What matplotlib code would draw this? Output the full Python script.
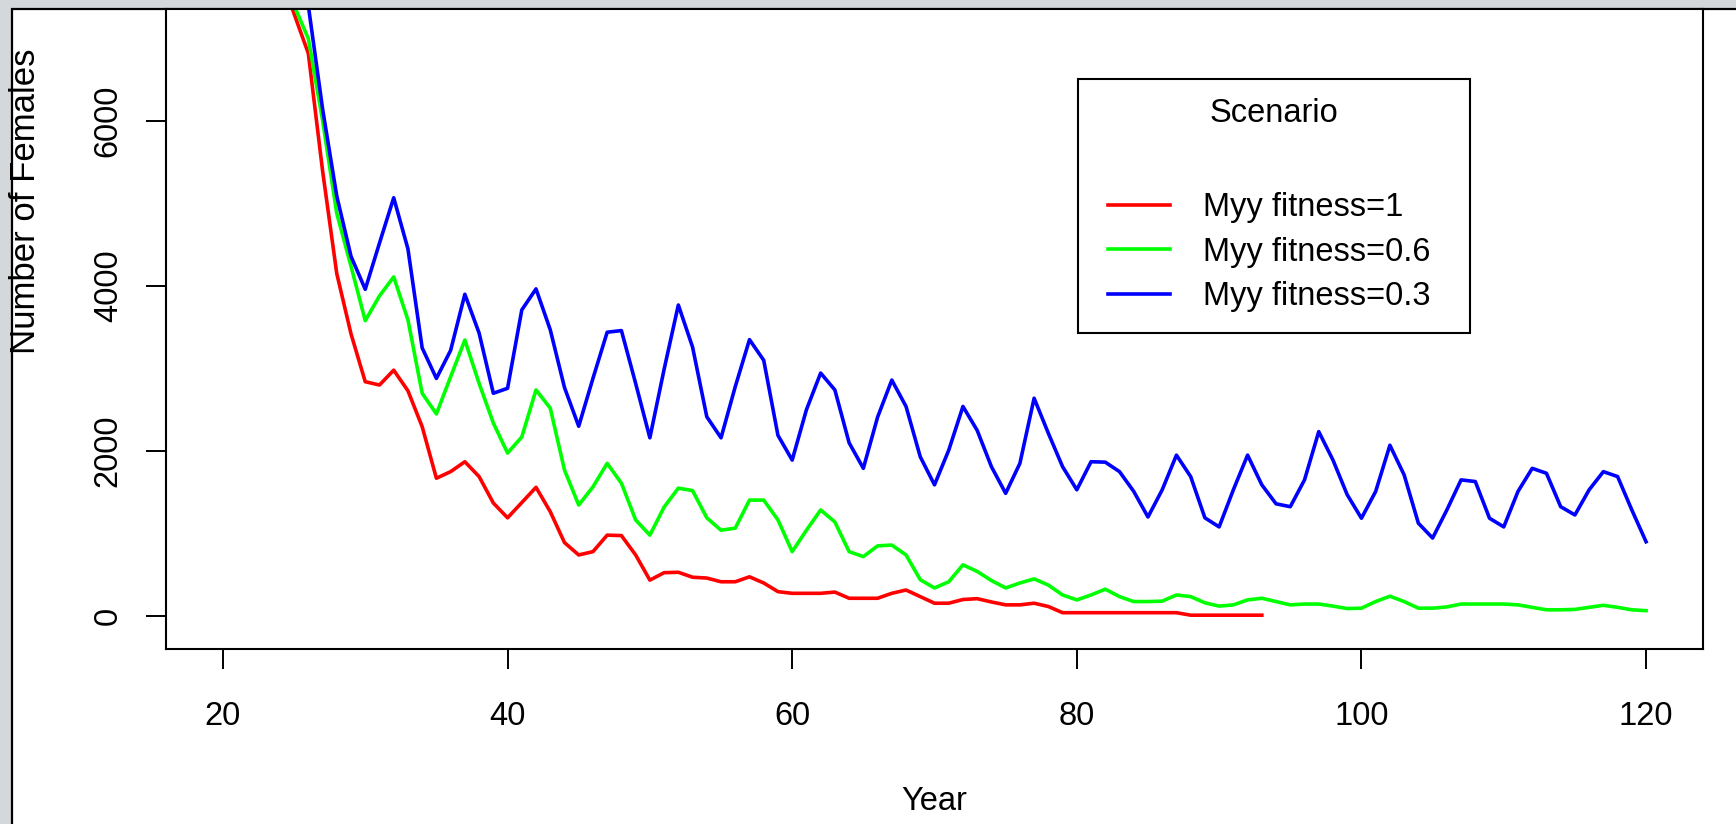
import matplotlib
matplotlib.use("Agg")
import matplotlib.pyplot as plt
from matplotlib.patches import Rectangle
import numpy as np

# yearly female counts per scenario
years = list(range(20, 121))
red_years = list(range(20, 94))

fitness_1 = [9400, 9000, 8600, 8200, 7800, 7300, 6820, 5400, 4150, 3420,
             2840, 2800, 2980, 2730, 2295, 1670, 1750, 1870, 1690, 1370,
             1190, 1375, 1560, 1265, 890, 740, 780, 980, 975, 740,
             435, 525, 530, 470, 460, 415, 415, 475, 400, 295,
             275, 275, 275, 290, 215, 215, 215, 275, 315, 235,
             155, 155, 200, 210, 170, 135, 135, 155, 115, 40,
             40, 40, 40, 40, 40, 40, 40, 40, 10, 10,
             10, 10, 10, 10]

fitness_06 = [9600, 9200, 8800, 8300, 7850, 7400, 7000, 6010, 4880, 4240,
              3580, 3880, 4110, 3590, 2700, 2450, 2900, 3345, 2820, 2340,
              1975, 2170, 2740, 2520, 1770, 1345, 1565, 1850, 1610, 1165,
              980, 1320, 1550, 1520, 1190, 1040, 1065, 1405, 1405, 1165,
              780, 1040, 1285, 1140, 780, 720, 850, 860, 740, 440,
              340, 415, 620, 540, 430, 340, 400, 450, 375, 255,
              195, 255, 325, 235, 175, 175, 180, 255, 235, 160,
              120, 135, 195, 215, 175, 135, 145, 145, 120, 90,
              95, 175, 240, 175, 95, 95, 110, 145, 145, 145,
              145, 135, 105, 75, 75, 80, 105, 130, 105, 75,
              65]

fitness_03 = [9900, 9600, 9200, 8800, 8300, 7850, 7400, 6150, 5090, 4360,
              3960, 4520, 5070, 4450, 3250, 2880, 3220, 3900, 3430, 2700,
              2760, 3710, 3965, 3470, 2770, 2300, 2880, 3440, 3460, 2820,
              2160, 2990, 3770, 3260, 2415, 2160, 2780, 3350, 3100, 2190,
              1890, 2500, 2945, 2740, 2100, 1790, 2410, 2860, 2540, 1930,
              1590, 2010, 2540, 2250, 1810, 1487, 1850, 2640, 2215, 1810,
              1530, 1870, 1865, 1750, 1510, 1200, 1530, 1950, 1690, 1190,
              1080, 1530, 1950, 1590, 1360, 1325, 1650, 2235, 1890, 1470,
              1185, 1510, 2070, 1710, 1125, 945, 1285, 1650, 1630, 1185,
              1080, 1510, 1790, 1730, 1325, 1225, 1530, 1750, 1690, 1285,
              900]

labels = ["Myy fitness=1", "Myy fitness=0.6", "Myy fitness=0.3"]
colors = ["#ff0000", "#00ff00", "#0000ff"]
x_ticks = [20, 40, 60, 80, 100, 120]
y_ticks = [0, 2000, 4000, 6000]

plt.rcParams["font.family"] = ["Liberation Sans", "DejaVu Sans"]
FS = 23.5

fig = plt.figure(figsize=(17.36, 8.24), dpi=100, facecolor="#d5d8da")
W, H = 1736.0, 824.0

# white slide panel behind the plot (left/top border visible)
fig.patches.append(Rectangle((12 / W, -0.1), 1.1, 1.1 - 9 / H,
                             transform=fig.transFigure, facecolor="white",
                             edgecolor="black", linewidth=1.6, zorder=-1))

ax = fig.add_axes([166 / W, 1 - 649 / H, (1703 - 166) / W, (649 - 9) / H])
ax.set_zorder(1)
ax.set_facecolor("white")

series = [(red_years, fitness_1), (years, fitness_06), (years, fitness_03)]
handles = []
for (xs, ys), c, lab in zip(series, colors, labels):
    ln, = ax.plot(xs, ys, color=c, linewidth=2.6, label=lab)
    handles.append(ln)

ax.set_xlim(16, 124)
ax.set_ylim(-400, 7358)
ax.set_xticks(x_ticks)
ax.set_yticks(y_ticks)

for sp in ax.spines.values():
    sp.set_linewidth(1.5)
ax.tick_params(axis="both", direction="out", length=14.4, width=1.4,
               labelsize=FS, colors="black")
ax.tick_params(axis="x", pad=23)
ax.tick_params(axis="y", pad=16, labelrotation=90)
for t in ax.get_yticklabels():
    t.set_va("center")

ax.set_xlabel("Year", fontsize=FS)
ax.xaxis.set_label_coords(0.5, (649 - 786) / 640)
fig.text(26 / W, 1 - 201 / H, "Number of Females", rotation=90,
         ha="center", va="center", fontsize=25, zorder=3)

# legend box, title and entries
bx0, by0 = (1077.5 - 166) / 1537, (649 - 332.6) / 640
ax.add_patch(Rectangle((bx0, by0), 392 / 1537, 253.8 / 640,
                       transform=ax.transAxes, facecolor="white",
                       edgecolor="black", linewidth=1.5, zorder=5))
ax.text(bx0 + 196 / 1537, (649 - 113.5) / 640, "Scenario", transform=ax.transAxes,
        ha="center", va="center", fontsize=FS, zorder=6)
leg = ax.legend(handles=handles, loc="upper left",
                bbox_to_anchor=((1108 - 166) / 1537, (649 - 192) / 640),
                frameon=False, fontsize=FS, borderpad=0, borderaxespad=0,
                labelspacing=0.42, handlelength=1.9, handletextpad=1.0)
leg.set_zorder(7)

fig.savefig("out.png", dpi=100, facecolor=fig.get_facecolor())
